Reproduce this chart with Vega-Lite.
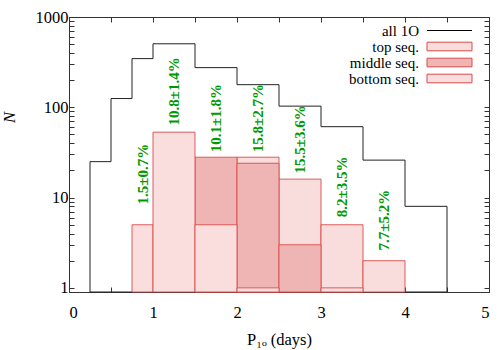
{
  "$schema": "https://vega.github.io/schema/vega-lite/v6.json",
  "width": 420,
  "height": 275,
  "autosize": "none",
  "padding": {"left": 69, "top": 17, "right": 11, "bottom": 58},
  "background": "white",
  "config": {
    "view": {"stroke": "#333", "strokeWidth": 1},
    "font": "Liberation Serif",
    "axis": {
      "labelFont": "Liberation Serif",
      "titleFont": "Liberation Serif",
      "labelFontSize": 16.5,
      "titleFontSize": 16.5,
      "labelColor": "black",
      "titleColor": "black",
      "titleFontWeight": "normal",
      "domainColor": "#333",
      "tickColor": "#333",
      "grid": false
    }
  },
  "datasets": {
    "all": [
      {"P": 0.25, "N": 25},
      {"P": 0.5, "N": 125},
      {"P": 0.75, "N": 346},
      {"P": 1.0, "N": 505},
      {"P": 1.5, "N": 275},
      {"P": 2.0, "N": 178},
      {"P": 2.5, "N": 103},
      {"P": 3.0, "N": 61},
      {"P": 3.5, "N": 26},
      {"P": 4.0, "N": 8},
      {"P": 4.5, "N": 8}
    ],
    "seq": [
      {"P0": 2.0, "P1": 2.5, "N": 28, "series": "top seq."},
      {"P0": 2.5, "P1": 3.0, "N": 16, "series": "top seq."},
      {"P0": 3.0, "P1": 3.5, "N": 5, "series": "top seq."},
      {"P0": 3.5, "P1": 4.0, "N": 2, "series": "top seq."},
      {"P0": 1.5, "P1": 2.0, "N": 28, "series": "middle seq."},
      {"P0": 2.0, "P1": 2.5, "N": 24, "series": "middle seq."},
      {"P0": 2.5, "P1": 3.0, "N": 3, "series": "middle seq."},
      {"P0": 0.75, "P1": 1.0, "N": 5, "series": "bottom seq."},
      {"P0": 1.0, "P1": 1.5, "N": 53, "series": "bottom seq."},
      {"P0": 1.5, "P1": 2.0, "N": 5, "series": "bottom seq."},
      {"P0": 2.0, "P1": 2.5, "N": 1, "series": "bottom seq."},
      {"P0": 3.0, "P1": 3.5, "N": 1, "series": "bottom seq."}
    ],
    "labels": [
      {"P": 0.875, "N": 8.4, "label": "1.5±0.7%"},
      {"P": 1.25, "N": 63, "label": "10.8±1.4%"},
      {"P": 1.75, "N": 31.7, "label": "10.1±1.8%"},
      {"P": 2.25, "N": 31.7, "label": "15.8±2.7%"},
      {"P": 2.75, "N": 18.5, "label": "15.5±3.6%"},
      {"P": 3.25, "N": 6.05, "label": "8.2±3.5%"},
      {"P": 3.75, "N": 2.6, "label": "7.7±5.2%"}
    ]
  },
  "layer": [
    {
      "data": {"name": "all"},
      "mark": {"type": "area", "interpolate": "step-after", "fill": "white", "fillOpacity": 0, "stroke": "#222", "strokeWidth": 1},
      "encoding": {
        "x": {
          "field": "P", "type": "quantitative",
          "scale": {"domain": [0, 5], "nice": false, "zero": false},
          "axis": {
            "orient": "bottom",
            "values": [0, 0.5, 1, 1.5, 2, 2.5, 3, 3.5, 4, 4.5, 5],
            "labelExpr": "datum.value % 1 === 0 ? '' + datum.value : ''",
            "tickSize": -5,
            "labelPadding": 17,
            "title": "P₁ₒ (days)",
            "titlePadding": 11
          }
        },
        "y": {
          "field": "N", "type": "quantitative",
          "scale": {"type": "log", "domain": [0.9, 1000], "nice": false},
          "axis": {
            "orient": "left",
            "values": [1,2,3,4,5,6,7,8,9,10,20,30,40,50,60,70,80,90,100,200,300,400,500,600,700,800,900,1000],
            "labelExpr": "(datum.value === 1 || datum.value === 10 || datum.value === 100 || datum.value === 1000) ? '' + datum.value : ''",
            "tickSize": -5,
            "labelPadding": 6,
            "title": "N",
            "titleFontStyle": "italic",
            "titleX": -52,
            "titleY": 100
          }
        },
        "y2": {"datum": 0.9}
      }
    },
    {
      "data": {"name": "seq"},
      "mark": {"type": "bar", "stroke": "#d94c4c", "strokeWidth": 1, "strokeOpacity": 0.9},
      "encoding": {
        "x": {"field": "P0", "type": "quantitative", "axis": null},
        "x2": {"field": "P1"},
        "y": {"field": "N", "type": "quantitative", "axis": null},
        "y2": {"datum": 0.9},
        "fill": {
          "field": "series", "type": "nominal",
          "scale": {
            "domain": ["all 1O", "top seq.", "middle seq.", "bottom seq."],
            "range": ["#ffffff", "#f9dcdc", "#efb5b5", "#fadddd"]
          },
          "legend": {
            "title": null,
            "orient": "none",
            "legendX": 373,
            "legendY": 6,
            "padding": 0,
            "symbolType": "M-4.5,-0.86H4.5V0.86H-4.5Z",
            "symbolSize": 100,
            "symbolStrokeColor": "#d94c4c",
            "symbolStrokeWidth": 1,
            "labelFont": "Liberation Serif",
            "labelFontSize": 15,
            "labelColor": "black",
            "labelAlign": "right",
            "labelOffset": -38,
            "rowPadding": -0.3,
            "encode": {
              "symbols": {
                "update": {
                  "shape": {"signal": "datum.value === 'all 1O' ? 'M-4.5,-0.86M-4.5,0H4.5M4.5,0.86' : 'M-4.5,-0.86H4.5V0.86H-4.5Z'"},
                  "stroke": {"signal": "datum.value === 'all 1O' ? '#000' : '#d94c4c'"}
                }
              }
            }
          }
        }
      }
    },
    {
      "data": {"name": "labels"},
      "mark": {"type": "text", "angle": 270, "align": "left", "baseline": "middle", "font": "Liberation Serif", "fontWeight": "bold", "fontSize": 15, "fill": "#009a00"},
      "encoding": {
        "x": {"field": "P", "type": "quantitative", "axis": null},
        "y": {"field": "N", "type": "quantitative", "axis": null},
        "text": {"field": "label"}
      }
    },
    {
      "data": {"name": "all"},
      "mark": {"type": "point", "opacity": 0},
      "encoding": {
        "x": {
          "field": "P", "type": "quantitative",
          "axis": {
            "orient": "top",
            "values": [0, 0.5, 1, 1.5, 2, 2.5, 3, 3.5, 4, 4.5, 5],
            "labels": false,
            "tickSize": -5,
            "tickColor": "#333",
            "tickOpacity": 1,
            "domainColor": "#333",
            "domainOpacity": 1,
            "title": ""
          }
        },
        "y": {
          "field": "N", "type": "quantitative",
          "axis": {
            "orient": "right",
            "values": [1,2,3,4,5,6,7,8,9,10,20,30,40,50,60,70,80,90,100,200,300,400,500,600,700,800,900,1000],
            "labels": false,
            "tickSize": -5,
            "tickColor": "#333",
            "tickOpacity": 1,
            "domainColor": "#333",
            "domainOpacity": 1,
            "title": ""
          }
        }
      }
    }
  ],
  "resolve": {"axis": {"x": "independent", "y": "independent"}}
}
